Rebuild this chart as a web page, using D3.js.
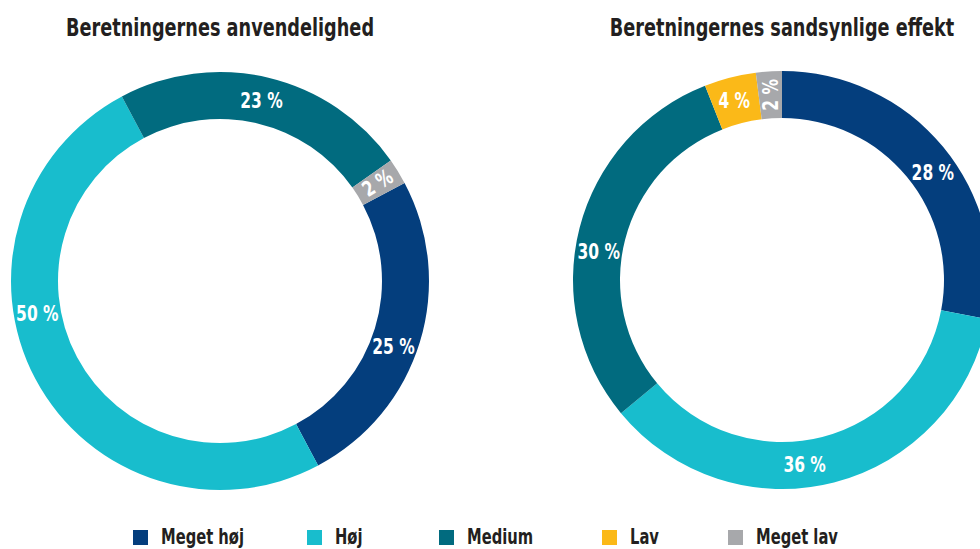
<!DOCTYPE html>
<html>
<head>
<meta charset="utf-8">
<script src="https://cdn.jsdelivr.net/npm/d3@7"></script>
<style>
  body { margin: 0; background: #fff; }
  svg text { font-family: "Liberation Sans Narrow", "DejaVu Sans Condensed", "Open Sans", sans-serif; font-weight: bold; }
</style>
</head>
<body>
<div id="chart"></div>
<script>
// categories shared by both rings
const categories = ["Meget høj", "Høj", "Medium", "Lav", "Meget lav"];
const colors = ["#043e7d", "#18bdcd", "#016b7f", "#fbb918", "#a7a8ab"];

// left ring: Beretningernes anvendelighed
const titleLeft = "Beretningernes anvendelighed";
const valuesLeft = [25, 50, 23, 0, 2];

// right ring: Beretningernes sandsynlige effekt
const titleRight = "Beretningernes sandsynlige effekt";
const valuesRight = [28, 36, 30, 4, 2];

// layout
const width = 980, height = 549;
const rOuter = 209, rInner = 162;
const squeeze = 0.82; // condensed look, no condensed bold font installed
const rings = [
  { title: titleLeft, values: valuesLeft, cx: 220, cy: 281, start: 62,
    // label angle (deg from top, clockwise) and rotation for each slice
    labelAngle: [110.7, 260, 12.9, null, 58], labelRot: [0, 0, 0, 0, -32] },
  { title: titleRight, values: valuesRight, cx: 782, cy: 280, start: 0,
    labelAngle: [54.4, 173, 279, 345.1, 356.4], labelRot: [0, 0, 0, 0, -90] }
];
const legendX = [133, 307, 439, 602, 728];

const svg = d3.select("#chart").append("svg")
  .attr("width", width)
  .attr("height", height);

const color = d3.scaleOrdinal().domain(categories).range(colors);
const arc = d3.arc().innerRadius(rInner).outerRadius(rOuter);
const rad = Math.PI / 180;

rings.forEach(ring => {
  const rows = categories.map((c, i) => ({ cat: c, value: ring.values[i], i: i }));
  const pie = d3.pie()
    .sort(null)
    .value(d => d.value)
    .startAngle(ring.start * rad)
    .endAngle((ring.start + 360) * rad);

  const g = svg.append("g")
    .attr("transform", "translate(" + ring.cx + "," + ring.cy + ")");

  g.selectAll("path")
    .data(pie(rows).filter(d => d.data.value > 0))
    .enter()
    .append("path")
    .attr("d", arc)
    .attr("fill", d => color(d.data.cat));

  // percent labels
  const rLabel = (rInner + rOuter) / 2;
  g.selectAll("text.lbl")
    .data(rows.filter(d => d.value > 0))
    .enter()
    .append("text")
    .attr("class", "lbl")
    .attr("transform", d => {
      const a = ring.labelAngle[d.i] * rad;
      const x = rLabel * Math.sin(a), y = -rLabel * Math.cos(a);
      return "translate(" + x + "," + y + ") rotate(" + ring.labelRot[d.i] + ") scale(" + squeeze + ",1)";
    })
    .attr("text-anchor", "middle")
    .attr("dy", "0.36em")
    .style("font-size", "21px")
    .style("fill", "#fff")
    .text(d => d.value + " %");

  // title
  svg.append("text")
    .attr("transform", "translate(" + ring.cx + ",36) scale(" + squeeze + ",1)")
    .attr("text-anchor", "middle")
    .style("font-size", "24px")
    .style("fill", "#231f20")
    .text(ring.title);
});

// legend
const legend = svg.selectAll("g.legend")
  .data(categories)
  .enter()
  .append("g")
  .attr("class", "legend")
  .attr("transform", (d, i) => "translate(" + legendX[i] + ",530)");

legend.append("rect")
  .attr("width", 15)
  .attr("height", 15)
  .attr("fill", d => color(d));

legend.append("text")
  .attr("transform", "translate(28,14) scale(0.78,1)")
  .style("font-size", "21px")
  .style("fill", "#231f20")
  .text(d => d);
</script>
</body>
</html>
